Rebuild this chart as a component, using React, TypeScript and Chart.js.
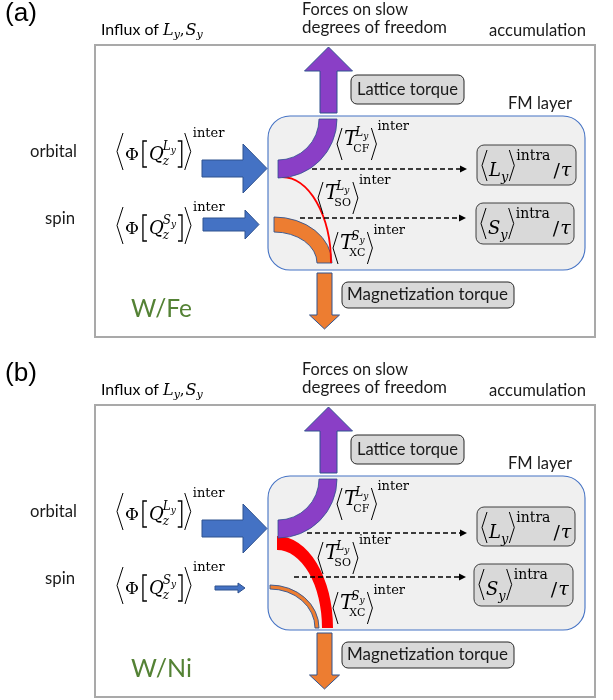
import React, { useEffect, useRef } from "react";
import { Chart, registerables } from "chart.js";

Chart.register(...registerables);

const W = 613;
const H = 700;

// ---- text content ----
const panelLetters = ["(a)", "(b)"];
const materials = ["W/Fe", "W/Ni"];
const headerLine1 = "Forces on slow";
const headerLine2 = "degrees of freedom";
const accumulationLabel = "accumulation";
const influxLabel = "Influx of ";
const channelLabels = ["orbital", "spin"];
const torqueLabels = ["Lattice torque", "Magnetization torque"];
const layerLabel = "FM layer";
const torqueSubs = ["CF", "SO", "XC"];
const torqueSups = ["L", "L", "S"];
const accumSymbols = ["L", "S"];

// ---- per-panel geometry ----
const panelShift = [0, 360];
// spin influx arrow per panel: [x0, headBase, tip, yc, shaftHalf, headHalf]
const spinArrows = [
  [203, 245, 259, 224.5, 6.5, 14.5],
  [215, 238, 245, 588, 2, 5],
];
const orbitalArrow = [202, 243, 267, 168.5, 8.5, 24.5];
// dashed accumulation arrows: [x0, x1, y]
const dashUpper = [
  [312, 461, 169],
  [307, 461, 533],
];
const dashLower = [
  [300, 460, 218],
  [294, 460, 577],
];
// accumulation boxes [x0, y0, x1, y1]
const accumBoxes = [
  [
    [477, 145, 576, 185],
    [476, 203, 574, 244],
  ],
  [
    [477, 507, 575, 546],
    [474, 564, 573, 606],
  ],
];
// torque formula anchors [x, bracketTop] (panel a; panel b adds shift)
const torqueAnchors = [
  [337, 128],
  [318, 182],
  [333, 232],
];

const SERIF = '"DejaVu Serif", serif';
const SANS = 'Lato, "Open Sans", sans-serif';
const PURPLE = "#8a3fc6";
const ORANGE = "#ed7d31";
const BLUE = "#4472c4";
const BLUE_EDGE = "#2f528f";
const GREEN = "#548235";

type Tok =
  | { k: "br"; s: "<" | ">" | "[" | "]"; w: number; top: number; bot: number }
  | { k: "t"; t: string; size: number; it?: boolean; dy?: number; font?: string }
  | { k: "gap"; w: number }
  | { k: "stack"; sup: Tok[]; sub: Tok[] };

function flow(ctx: CanvasRenderingContext2D, x: number, y: number, toks: Tok[]): number {
  let cx = x;
  for (const tk of toks) {
    if (tk.k === "gap") cx += tk.w;
    else if (tk.k === "t") {
      ctx.font = `${tk.it ? "italic " : ""}${tk.size}px ${tk.font || SERIF}`;
      ctx.fillText(tk.t, cx, y + (tk.dy || 0));
      cx += ctx.measureText(tk.t).width;
    } else if (tk.k === "br") {
      const t = y + tk.top;
      const b = y + tk.bot;
      const m = (t + b) / 2;
      ctx.beginPath();
      if (tk.s === "<") {
        ctx.lineWidth = 1;
        ctx.moveTo(cx + tk.w, t);
        ctx.lineTo(cx, m);
        ctx.lineTo(cx + tk.w, b);
      } else if (tk.s === ">") {
        ctx.lineWidth = 1;
        ctx.moveTo(cx, t);
        ctx.lineTo(cx + tk.w, m);
        ctx.lineTo(cx, b);
      } else if (tk.s === "[") {
        ctx.lineWidth = 1.3;
        ctx.moveTo(cx + tk.w, t);
        ctx.lineTo(cx + 1, t);
        ctx.lineTo(cx + 1, b);
        ctx.lineTo(cx + tk.w, b);
      } else {
        ctx.lineWidth = 1.3;
        ctx.moveTo(cx, t);
        ctx.lineTo(cx + tk.w - 1, t);
        ctx.lineTo(cx + tk.w - 1, b);
        ctx.lineTo(cx, b);
      }
      ctx.stroke();
      cx += tk.w;
    } else if (tk.k === "stack") {
      const a = flow(ctx, cx, y, tk.sup);
      const b = flow(ctx, cx, y, tk.sub);
      cx = Math.max(a, b);
    }
  }
  return cx;
}

function phiFormula(sup: string): Tok[] {
  return [
    { k: "br", s: "<", w: 6, top: -27, bot: 10 },
    { k: "gap", w: 2 },
    { k: "t", t: "Φ", size: 17 },
    { k: "gap", w: 3 },
    { k: "br", s: "[", w: 5, top: -19, bot: 7 },
    { k: "gap", w: 2 },
    { k: "t", t: "Q", size: 18, it: true },
    { k: "gap", w: -1 },
    {
      k: "stack",
      sup: [
        { k: "t", t: sup, size: 12, it: true, dy: -10 },
        { k: "t", t: "y", size: 9, it: true, dy: -7 },
      ],
      sub: [{ k: "t", t: "z", size: 12, it: true, dy: 5 }],
    },
    { k: "gap", w: 2 },
    { k: "br", s: "]", w: 5, top: -19, bot: 7 },
    { k: "gap", w: 2 },
    { k: "br", s: ">", w: 6, top: -27, bot: 10 },
    { k: "gap", w: 2 },
    { k: "t", t: "inter", size: 13, dy: -23 },
  ];
}

function torqueFormula(sup: string, sub: string): Tok[] {
  return [
    { k: "br", s: "<", w: 5, top: -17, bot: 15 },
    { k: "gap", w: 2 },
    { k: "t", t: "T", size: 20, it: true },
    { k: "gap", w: -2 },
    {
      k: "stack",
      sup: [
        { k: "t", t: sup, size: 12, it: true, dy: -9 },
        { k: "t", t: "y", size: 9, it: true, dy: -6 },
      ],
      sub: [
        { k: "gap", w: -2 },
        { k: "t", t: sub, size: 11, dy: 7 },
      ],
    },
    { k: "gap", w: 2 },
    { k: "br", s: ">", w: 5, top: -17, bot: 15 },
    { k: "gap", w: 1 },
    { k: "t", t: "inter", size: 13, dy: -15 },
  ];
}

function accumFormula(sym: string): Tok[] {
  return [
    { k: "br", s: "<", w: 5, top: -26, bot: 5 },
    { k: "gap", w: 2 },
    { k: "t", t: sym, size: 18, it: true },
    { k: "t", t: "y", size: 13, it: true, dy: 5 },
    { k: "gap", w: 1 },
    { k: "br", s: ">", w: 5, top: -26, bot: 5 },
    { k: "gap", w: 2 },
    { k: "t", t: "intra", size: 14, dy: -16 },
    { k: "gap", w: 3 },
    { k: "t", t: "/", size: 19, dy: 1 },
    { k: "gap", w: 1 },
    { k: "t", t: "τ", size: 19, it: true },
  ];
}

function fitText(
  ctx: CanvasRenderingContext2D,
  text: string,
  x: number,
  y: number,
  width: number,
  family: string,
  base: number,
  align: "left" | "right" = "left"
) {
  ctx.font = `${base}px ${family}`;
  const m = ctx.measureText(text).width;
  const s = (base * width) / m;
  ctx.font = `${s}px ${family}`;
  ctx.textAlign = align;
  ctx.fillText(text, x, y);
  ctx.textAlign = "left";
  return s;
}

function rrect(ctx: CanvasRenderingContext2D, x0: number, y0: number, x1: number, y1: number, r: number) {
  ctx.beginPath();
  ctx.moveTo(x0 + r, y0);
  ctx.lineTo(x1 - r, y0);
  ctx.arcTo(x1, y0, x1, y0 + r, r);
  ctx.lineTo(x1, y1 - r);
  ctx.arcTo(x1, y1, x1 - r, y1, r);
  ctx.lineTo(x0 + r, y1);
  ctx.arcTo(x0, y1, x0, y1 - r, r);
  ctx.lineTo(x0, y0 + r);
  ctx.arcTo(x0, y0, x0 + r, y0, r);
  ctx.closePath();
}

function hArrow(ctx: CanvasRenderingContext2D, a: number[], dy: number) {
  const [x0, hb, tip, yc0, sh, hh] = a;
  const yc = yc0 + dy;
  ctx.beginPath();
  ctx.moveTo(x0, yc - sh);
  ctx.lineTo(hb, yc - sh);
  ctx.lineTo(hb, yc - hh);
  ctx.lineTo(tip, yc);
  ctx.lineTo(hb, yc + hh);
  ctx.lineTo(hb, yc + sh);
  ctx.lineTo(x0, yc + sh);
  ctx.closePath();
  ctx.fillStyle = BLUE;
  ctx.fill();
  ctx.strokeStyle = BLUE_EDGE;
  ctx.lineWidth = 1;
  ctx.stroke();
}

function vArrow(
  ctx: CanvasRenderingContext2D,
  xc: number,
  y0: number,
  hb: number,
  tip: number,
  sh: number,
  hh: number,
  fill: string
) {
  ctx.beginPath();
  ctx.moveTo(xc - sh, y0);
  ctx.lineTo(xc - sh, hb);
  ctx.lineTo(xc - hh, hb);
  ctx.lineTo(xc, tip);
  ctx.lineTo(xc + hh, hb);
  ctx.lineTo(xc + sh, hb);
  ctx.lineTo(xc + sh, y0);
  ctx.closePath();
  ctx.fillStyle = fill;
  ctx.fill();
  ctx.strokeStyle = BLUE_EDGE;
  ctx.lineWidth = 1;
  ctx.stroke();
}

function ellBand(
  ctx: CanvasRenderingContext2D,
  cx: number,
  cy: number,
  rxo: number,
  ryo: number,
  rxi: number,
  ryi: number,
  fill: string,
  edge: string | null
) {
  ctx.beginPath();
  ctx.ellipse(cx, cy, rxo, ryo, 0, -Math.PI / 2, 0);
  ctx.ellipse(cx, cy, rxi, ryi, 0, 0, -Math.PI / 2, true);
  ctx.closePath();
  ctx.fillStyle = fill;
  ctx.fill();
  if (edge) {
    ctx.strokeStyle = edge;
    ctx.lineWidth = 0.9;
    ctx.stroke();
  }
}

function withScales(chart: any, fn: (ctx: CanvasRenderingContext2D) => void) {
  const ctx: CanvasRenderingContext2D = chart.ctx;
  const xs = chart.scales.x;
  const ys = chart.scales.y;
  const ox = xs.getPixelForValue(0);
  const oy = ys.getPixelForValue(0);
  const kx = xs.getPixelForValue(1) - ox;
  const ky = ys.getPixelForValue(1) - oy;
  ctx.save();
  ctx.translate(ox, oy);
  ctx.scale(kx, ky);
  fn(ctx);
  ctx.restore();
}

const diagramPlugin = {
  id: "diagram",
  beforeDatasetsDraw(chart: any) {
    withScales(chart, (ctx) => {
      panelShift.forEach((s, p) => {
        // outer box
        ctx.strokeStyle = "#a9a9a9";
        ctx.lineWidth = 2;
        ctx.strokeRect(95, 45 + s, 500, 292);
        // FM layer box
        rrect(ctx, 268, 116 + s, 585, 270 + s, 22);
        ctx.fillStyle = "#f0f0f0";
        ctx.fill();
        ctx.strokeStyle = BLUE;
        ctx.lineWidth = 1.1;
        ctx.stroke();

        if (p === 0) {
          ellBand(ctx, 274, 263 + s, 58, 46, 43, 31, ORANGE, BLUE_EDGE);
          ctx.beginPath();
          ctx.ellipse(282, 263 + s, 49, 86, 0, -Math.PI / 2, 0);
          ctx.strokeStyle = "#ff0000";
          ctx.lineWidth = 1.8;
          ctx.stroke();
        } else {
          ellBand(ctx, 270, 628, 49, 43, 45, 39, ORANGE, BLUE_EDGE);
          ellBand(ctx, 277, 628, 56, 92, 45, 78, "#ff0000", null);
        }
        // purple arc
        ctx.beginPath();
        ctx.arc(278, 119 + s, 59, 0, Math.PI / 2);
        ctx.arc(278, 119 + s, 41, Math.PI / 2, 0, true);
        ctx.closePath();
        ctx.fillStyle = PURPLE;
        ctx.fill();
        ctx.strokeStyle = BLUE_EDGE;
        ctx.lineWidth = 0.8;
        ctx.stroke();

        // influx arrows
        hArrow(ctx, orbitalArrow, s);
        hArrow(ctx, spinArrows[p], 0);
        // up (lattice) and down (magnetization) arrows
        vArrow(ctx, 328.5, 113 + s, 71 + s, 47 + s, 8.5, 24, PURPLE);
        vArrow(ctx, 324.5, 273 + s, 315 + s, 329 + s, 7.5, 15, ORANGE);

        // torque label boxes
        ctx.lineWidth = 1;
        rrect(ctx, 351, 75 + s, 464, 104 + s, 6);
        ctx.fillStyle = "#d9d9d9";
        ctx.fill();
        ctx.strokeStyle = "#262626";
        ctx.stroke();
        rrect(ctx, 342, 282 + s, 514, 308 + s, 6);
        ctx.fillStyle = "#d9d9d9";
        ctx.fill();
        ctx.stroke();
        // accumulation boxes
        accumBoxes[p].forEach((b) => {
          rrect(ctx, b[0], b[1], b[2], b[3], 7);
          ctx.fillStyle = "#d9d9d9";
          ctx.fill();
          ctx.strokeStyle = "#404040";
          ctx.stroke();
        });
      });
    });
  },
  afterDatasetsDraw(chart: any) {
    withScales(chart, (ctx) => {
      // arrowheads of dashed lines
      ctx.fillStyle = "#000";
      [...dashUpper, ...dashLower].forEach(([, x1, y]) => {
        ctx.beginPath();
        ctx.moveTo(x1 - 1, y - 3.5);
        ctx.lineTo(x1 + 6, y);
        ctx.lineTo(x1 - 1, y + 3.5);
        ctx.closePath();
        ctx.fill();
      });

      panelShift.forEach((s, p) => {
        ctx.fillStyle = "#000";
        ctx.strokeStyle = "#000";
        ctx.textBaseline = "alphabetic";
        fitText(ctx, panelLetters[p], 5, 21 + s, 32, '"Liberation Sans", Arial, sans-serif', 26);
        ctx.fillStyle = "#1a1a1a";
        fitText(ctx, headerLine1, 302, 15 + s, 106, SANS, 16);
        fitText(ctx, headerLine2, 302, 33 + s, 145, SANS, 16);
        fitText(ctx, accumulationLabel, 489, 36 + s, 97, SANS, 16);
        fitText(ctx, channelLabels[0], 77, 157 + s, 47, SANS, 16, "right");
        fitText(ctx, channelLabels[1], 75, 224 + s, 30, SANS, 16, "right");
        fitText(ctx, torqueLabels[0], 357, 95 + s, 101, SANS, 16);
        fitText(ctx, torqueLabels[1], 347, 300 + s, 161, SANS, 16);
        fitText(ctx, layerLabel, 508, 109 + s, 64, SANS, 16);
        ctx.fillStyle = GREEN;
        fitText(ctx, materials[p], 131, 317 + s, 61, SANS, 26);

        ctx.fillStyle = "#000";
        const influxSize = fitText(ctx, influxLabel, 101, 35 + s, 62, SANS, 16);
        ctx.font = `${influxSize}px ${SANS}`;
        flow(ctx, 101 + 62, 35 + s, [
          { k: "t", t: "L", size: 16, it: true },
          { k: "t", t: "y", size: 11, it: true, dy: 3 },
          { k: "t", t: ",", size: 15 },
          { k: "gap", w: 1 },
          { k: "t", t: "S", size: 16, it: true },
          { k: "t", t: "y", size: 11, it: true, dy: 3 },
        ]);

        // influx formulas
        flow(ctx, 117, 133 + 27 + s, phiFormula("L"));
        flow(ctx, 117, 207 + 27 + s, phiFormula("S"));
        // torque formulas
        torqueAnchors.forEach(([x, top], i) => {
          flow(ctx, x, top + 17 + s, torqueFormula(torqueSups[i], torqueSubs[i]));
        });
        // accumulation formulas
        accumBoxes[p].forEach((b, i) => {
          flow(ctx, b[0] + 5, b[1] + 31, accumFormula(accumSymbols[i]));
        });
      });
    });
  },
};

export default function App() {
  const ref = useRef<HTMLCanvasElement>(null);
  useEffect(() => {
    if (!ref.current) return;
    const dashed = [...dashUpper, ...dashLower].map(([x0, x1, y]) => ({
      data: [
        { x: x0, y },
        { x: x1, y },
      ],
      showLine: true,
      borderColor: "#000",
      borderWidth: 1.6,
      borderDash: [5, 3],
      pointRadius: 0,
      fill: false,
    }));
    const chart = new Chart(ref.current, {
      type: "scatter",
      data: { datasets: dashed as any },
      options: {
        responsive: false,
        animation: false,
        events: [],
        layout: { padding: 0 },
        plugins: { legend: { display: false }, tooltip: { enabled: false } },
        scales: {
          x: { type: "linear", min: 0, max: W, display: false },
          y: { type: "linear", min: 0, max: H, reverse: true, display: false },
        },
      },
      plugins: [diagramPlugin],
    });
    return () => chart.destroy();
  }, []);
  return (
    <div style={{ position: "fixed", left: 0, top: 0, width: W, height: H, background: "#fff" }}>
      <canvas ref={ref} width={W} height={H} style={{ display: "block" }} />
    </div>
  );
}
